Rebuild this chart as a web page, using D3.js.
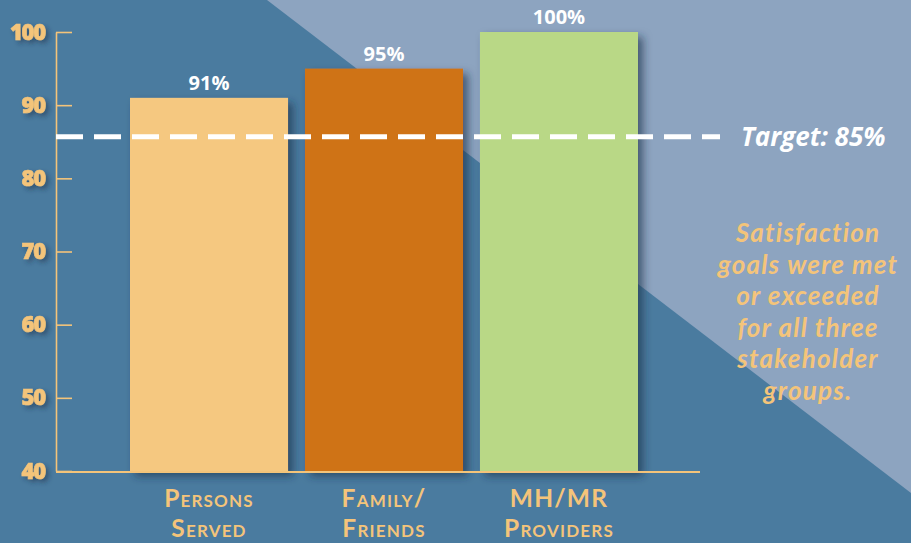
<!DOCTYPE html>
<html>
<head>
<meta charset="utf-8">
<script src="https://cdn.jsdelivr.net/npm/d3@7"></script>
<style>
  html, body { margin: 0; padding: 0; background: #4a7b9f; }
  svg { display: block; }
</style>
</head>
<body>
<div id="chart"></div>
<script>
// data
const groups = ["Persons Served", "Family/ Friends", "MH/MR Providers"];
const groupLines = [["Persons", "Served"], ["Family/", "Friends"], ["MH/MR", "Providers"]];
const satisfaction = [91, 95, 100];
const barColors = ["#f5c880", "#cf7318", "#b9d886"];
const yTicks = [40, 50, 60, 70, 80, 90, 100];
const target = 85;
const targetLineValue = 85.7; // the dashed line sits a touch above 85 in the original
const note = ["Satisfaction", "goals were met", "or exceeded", "for all three", "stakeholder", "groups."];

const W = 911, H = 543;
const gold = "#f4c47a";

const svg = d3.select("#chart").append("svg")
    .attr("width", W)
    .attr("height", H);

const defs = svg.append("defs");
defs.append("filter").attr("id", "barShadow")
    .attr("x", "-20%").attr("y", "-20%").attr("width", "150%").attr("height", "150%")
    .append("feDropShadow")
    .attr("dx", 5).attr("dy", 5).attr("stdDeviation", 4)
    .attr("flood-color", "#1b3148").attr("flood-opacity", 0.65);
defs.append("filter").attr("id", "textShadow")
    .attr("x", "-30%").attr("y", "-30%").attr("width", "180%").attr("height", "180%")
    .append("feDropShadow")
    .attr("dx", 3).attr("dy", 3).attr("stdDeviation", 2.5)
    .attr("flood-color", "#1b3148").attr("flood-opacity", 0.55);

// background: dark blue with a lighter diagonal wedge at top right
svg.append("rect").attr("width", W).attr("height", H).attr("fill", "#4a7b9f");
svg.append("path")
    .attr("d", "M267,0 L911,0 L911,493 Z")
    .attr("fill", "#8da4c0");

// scales
const x = d3.scaleBand()
    .domain(groups)
    .range([121.5, 646.5])
    .paddingInner(0.097)
    .paddingOuter(0.0486);

const y = d3.scaleLinear()
    .domain([40, 100])
    .range([471, 32]);

const axisX0 = 56, axisRight = 700;

// bars
svg.append("g").selectAll("rect")
    .data(satisfaction)
    .join("rect")
    .attr("x", (d, i) => x(groups[i]))
    .attr("y", d => y(d))
    .attr("width", x.bandwidth())
    .attr("height", d => y(40) - y(d))
    .attr("fill", (d, i) => barColors[i])
    .attr("filter", "url(#barShadow)");

// value labels
svg.append("g").selectAll("text")
    .data(satisfaction)
    .join("text")
    .attr("x", (d, i) => x(groups[i]) + x.bandwidth() / 2)
    .attr("y", d => y(d) - 8)
    .attr("text-anchor", "middle")
    .style("font-family", "Open Sans, sans-serif")
    .style("font-weight", "700")
    .style("font-size", "20px")
    .attr("fill", "#ffffff")
    .text(d => d + "%");

// y axis
const yAxis = svg.append("g")
    .attr("transform", `translate(${axisX0},0)`)
    .call(d3.axisLeft(y).tickValues(yTicks).tickSizeInner(-16).tickSizeOuter(0).tickPadding(11));
yAxis.selectAll("path, line").attr("stroke", gold).attr("stroke-width", 1.6);
yAxis.selectAll("text")
    .attr("fill", gold)
    .style("font-family", "Open Sans, sans-serif")
    .style("font-weight", "800")
    .style("font-size", "22px")
    .style("letter-spacing", "-1.2px")
    .attr("stroke", gold).attr("stroke-width", 0.6)
    .attr("filter", "url(#textShadow)");

// baseline
svg.append("line")
    .attr("x1", axisX0).attr("x2", axisRight)
    .attr("y1", y(40) + 1).attr("y2", y(40) + 1)
    .attr("stroke", gold).attr("stroke-width", 2);

// target line
svg.append("line")
    .attr("x1", axisX0).attr("x2", 720)
    .attr("y1", y(targetLineValue)).attr("y2", y(targetLineValue))
    .attr("stroke", "#ffffff").attr("stroke-width", 5)
    .attr("stroke-dasharray", "27 11");

svg.append("text")
    .attr("x", 741).attr("y", y(targetLineValue) + 9)
    .style("font-family", "Open Sans, sans-serif")
    .style("font-weight", "700")
    .style("font-style", "italic")
    .style("font-size", "26px")
    .attr("fill", "#ffffff")
    .text(`Target: ${target}%`);

// category labels (small caps)
const catG = svg.append("g").selectAll("text")
    .data(groupLines)
    .join("text")
    .attr("x", (d, i) => x(groups[i]) + x.bandwidth() / 2)
    .attr("y", 507)
    .attr("text-anchor", "middle")
    .style("font-family", "Lato, sans-serif")
    .style("font-weight", "700")
    .style("font-size", "24.5px")
    .style("letter-spacing", "1.2px")
    .style("font-variant", "small-caps")
    .attr("fill", gold);
catG.selectAll("tspan")
    .data(d => d)
    .join("tspan")
    .attr("x", function() { return this.parentNode.getAttribute("x"); })
    .attr("dy", (d, i) => i === 0 ? 0 : 30)
    .text(d => d);

// side note
svg.append("text")
    .attr("x", 808).attr("y", 242)
    .attr("text-anchor", "middle")
    .style("font-family", "Lato, sans-serif")
    .style("font-weight", "700")
    .style("font-style", "italic")
    .style("font-size", "26px")
    .style("letter-spacing", "1.2px")
    .attr("fill", gold)
    .selectAll("tspan")
    .data(note)
    .join("tspan")
    .attr("x", 808)
    .attr("dy", (d, i) => i === 0 ? 0 : 31.6)
    .text(d => d);
</script>
</body>
</html>
